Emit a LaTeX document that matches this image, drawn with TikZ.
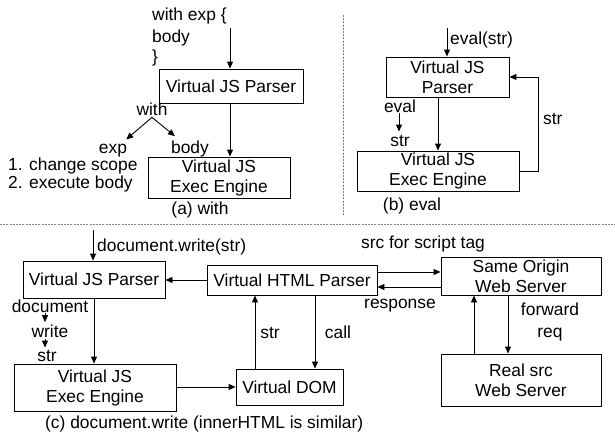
\documentclass[tikz,border=0pt]{standalone}
\usepackage{fontspec}
\setmainfont{Liberation Sans}
\usetikzlibrary{arrows.meta,calc}
\begin{document}
\begin{tikzpicture}[x=1pt,y=-1pt,
  font=\fontsize{17.4}{20}\selectfont,
  box/.style={draw,line width=0.9pt,align=center,inner sep=0pt},
  lbl/.style={inner sep=0pt},
  arr/.style={line width=0.9pt,-{Triangle[length=7pt,width=6pt]}},
  sep/.style={gray,line width=0.9pt,dash pattern=on 2pt off 1.2pt}]
\useasboundingbox (0,0) rectangle (615,436);
% separators
\draw[sep] (343,15) -- (343,215);
\draw[sep] (0,224) -- (615,224);
% (a) with
\node[lbl,anchor=base west] (w1) at (152,21) {with exp \{};
\node[lbl,anchor=base west] (w2) at (152,42) {body};
\node[lbl,anchor=base west] (w3) at (152,63) {\}};
\node[box,minimum width=144pt,minimum height=34pt] (pa) at (231,86) {Virtual JS Parser};
\node[box,minimum width=142pt,minimum height=41pt] (ea) at (219,177.5) {Virtual JS\\Exec Engine};
\coordinate (ain) at (230,28);
\draw[arr] (ain) -- (ain |- pa.north);
\draw[arr] (ain |- pa.south) -- (ain |- ea.north);
\node[lbl,anchor=base] (with) at (152,115) {with};
\node[lbl,anchor=base] (exp) at (113,153) {exp};
\node[lbl,anchor=base] (body) at (190,153) {body};
\draw[arr] ($(with.south)+(0,2)$) -- ($(exp.north east)+(-1,-4)$);
\draw[arr] ($(with.south)+(0,2)$) -- ($(body.north west)+(4,-4)$);
\node[lbl,anchor=base west] (s1) at (8,170) {1. change scope};
\node[lbl,anchor=base west] (s2) at (8,188) {2. execute body};
\node[lbl,anchor=base] (capa) at (200,214) {(a) with};
% (b) eval
\node[box,minimum width=123pt,minimum height=40pt] (pb) at (447.5,77) {Virtual JS\\Parser};
\node[box,minimum width=162pt,minimum height=40pt] (eb) at (438,171) {Virtual JS\\Exec Engine};
\coordinate (bin) at (447,28);
\draw[arr] (bin) -- (bin |- pb.north);
\node[lbl,anchor=base west] (evs) at (450,45) {eval(str)};
\draw[arr] (eb.north |- pb.south) -- (eb.north);
\node[lbl,anchor=base] (ev) at (400,112) {eval};
\node[lbl,anchor=base] (evstr) at (400,146) {str};
\draw[arr] ($(ev.south)+(-1,1)$) -- ($(evstr.north)+(-1,-3)$);
\coordinate (bk) at (538,77);
\draw[arr] (eb.east) -| (bk) -- (pb.east |- bk);
\node[lbl,anchor=base west] (bstr) at (543,124) {str};
\node[lbl,anchor=base] (capb) at (412,210) {(b) eval};
% (c) document.write
\node[box,minimum width=142pt,minimum height=37pt] (pc) at (94,279.5) {Virtual JS Parser};
\node[box,minimum width=162pt,minimum height=47pt] (ec) at (95,387.5) {Virtual JS\\Exec Engine};
\node[box,minimum width=170pt,minimum height=30pt] (hp) at (292,280) {Virtual HTML Parser};
\node[box,minimum width=107pt,minimum height=36pt] (dom) at (289.5,387) {Virtual DOM};
\node[box,minimum width=160pt,minimum height=38pt] (so) at (521,276) {Same Origin\\Web Server};
\node[box,minimum width=160pt,minimum height=52pt] (rs) at (521,380) {Real src\\Web Server};
\coordinate (cin) at (93,230);
\draw[arr] (cin) -- (cin |- pc.north);
\node[lbl,anchor=base west] (dw) at (97,251) {document.write(str)};
\draw[arr] (hp.west) -- (pc.east |- hp.west);
\draw[arr] (pc.south) -- (pc.south |- ec.north);
\node[lbl,anchor=base] (d1) at (50,312) {document};
\node[lbl,anchor=base] (d2) at (50,337) {write};
\node[lbl,anchor=base] (d3) at (47,361) {str};
\draw[arr] ($(d1.south)+(-5,1)$) -- ($(d2.north)+(-5,-2)$);
\draw[arr] ($(d2.south)+(-5,2)$) -- ($(d3.north)+(-2,-2)$);
\draw[arr] (ec.east |- dom.west) -- (dom.west);
\draw[arr] ($(dom.north)+(-34.5,0)$) -- ($(hp.south)+(-37,0)$);
\node[lbl,anchor=base] (cstr) at (270,338) {str};
\draw[arr] ($(hp.south)+(23,0)$) -- ($(dom.north)+(25.5,0)$);
\node[lbl,anchor=base] (call) at (338,338) {call};
\draw[arr] ($(hp.east)+(0,-8)$) -- ($(so.west |- hp.east)+(0,-8)$);
\draw[arr] ($(so.west |- hp.east)+(0,7)$) -- ($(hp.east)+(0,7)$);
\node[lbl,anchor=base] (src) at (423,248) {src for script tag};
\node[lbl,anchor=base] (resp) at (400,308) {response};
\draw[arr] ($(so.south)+(-13,0)$) -- ($(rs.north)+(-13,0)$);
\draw[arr] ($(rs.north)+(-47,0)$) -- ($(so.south)+(-47,0)$);
\node[lbl,anchor=base] (fw) at (550,315) {forward};
\node[lbl,anchor=base] (req) at (550,337) {req};
\node[lbl,anchor=base west] (capc) at (45,428) {(c) document.write (innerHTML is similar)};
\end{tikzpicture}
\end{document}
